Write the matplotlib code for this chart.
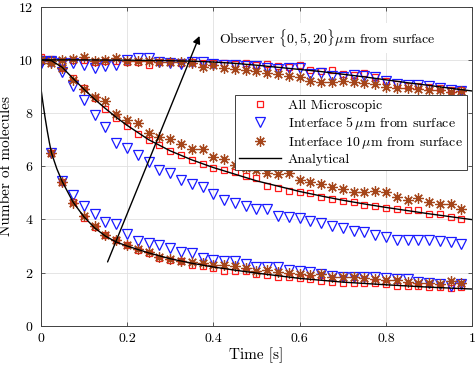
import numpy as np
import matplotlib
matplotlib.use("Agg")
import matplotlib.pyplot as plt

plt.rcParams['font.family'] = 'serif'
plt.rcParams['font.serif'] = ['cmr10']
plt.rcParams['mathtext.fontset'] = 'cm'
plt.rcParams['axes.formatter.use_mathtext'] = True

# sample times of the simulation markers
t = np.arange(40) * 0.025

# observer at the surface (0 um)
micro_0 = [10.0, 6.5, 5.4, 4.64, 4.06, 3.72, 3.41, 3.22, 3.03, 2.85,
           2.72, 2.53, 2.47, 2.44, 2.28, 2.24, 2.16, 2.06, 2.04, 2.07,
           1.94, 1.91, 1.84, 1.84, 1.78, 1.76, 1.69, 1.65, 1.62, 1.62,
           1.62, 1.59, 1.57, 1.49, 1.49, 1.49, 1.47, 1.44, 1.40, 1.44]
if5_0 = [9.95, 6.5, 5.45, 4.91, 4.50, 4.22, 3.91, 3.82, 3.45, 3.20,
         3.10, 3.03, 2.91, 2.78, 2.74, 2.53, 2.47, 2.44, 2.43, 2.31,
         2.19, 2.19, 2.19, 2.09, 2.07, 2.03, 1.94, 1.87, 1.84, 1.84,
         1.84, 1.82, 1.80, 1.74, 1.74, 1.63, 1.59, 1.57, 1.49, 1.57]
if10_0 = [10.0, 6.5, 5.4, 4.62, 4.12, 3.75, 3.42, 3.22, 3.02, 2.87,
          2.76, 2.60, 2.50, 2.44, 2.38, 2.35, 2.30, 2.28, 2.24, 2.16,
          2.07, 2.09, 2.03, 1.97, 1.94, 1.91, 1.93, 1.84, 1.84, 1.82,
          1.78, 1.76, 1.72, 1.72, 1.65, 1.62, 1.59, 1.57, 1.69, 1.62]

# observer 5 um from surface
micro_5 = [10.05, 10.0, 9.70, 9.30, 8.96, 8.55, 8.15, 7.83, 7.53, 7.23,
           6.98, 6.78, 6.58, 6.42, 6.23, 6.10, 5.94, 5.85, 5.77, 5.65,
           5.54, 5.26, 5.19, 5.08, 5.04, 4.98, 4.83, 4.76, 4.70, 4.66,
           4.54, 4.50, 4.41, 4.40, 4.34, 4.35, 4.22, 4.20, 4.10, 4.00]
if5_5 = [9.90, 9.95, 9.55, 9.01, 8.48, 7.92, 7.46, 6.88, 6.69, 6.42,
         6.17, 5.85, 5.73, 5.48, 5.32, 5.20, 4.95, 4.73, 4.62, 4.50,
         4.40, 4.38, 4.12, 4.10, 4.07, 3.95, 3.87, 3.75, 3.66, 3.57,
         3.53, 3.41, 3.35, 3.22, 3.22, 3.22, 3.22, 3.18, 3.14, 3.06]
if10_5 = [10.0, 9.95, 9.68, 9.24, 8.89, 8.61, 8.45, 7.96, 7.73, 7.61,
          7.26, 7.11, 7.01, 6.83, 6.63, 6.63, 6.35, 6.26, 6.04, 5.95,
          5.85, 5.73, 5.69, 5.73, 5.50, 5.41, 5.33, 5.23, 5.16, 5.02,
          5.02, 5.08, 5.04, 4.83, 4.73, 4.79, 4.66, 4.58, 4.56, 4.39]

# observer 20 um from surface
micro_20 = [10.1, 10.05, 9.93, 10.01, 10.0, 9.93, 9.95, 9.97, 9.93, 9.93,
            9.80, 9.93, 9.93, 9.90, 9.93, 9.90, 9.88, 9.90, 9.86, 9.90,
            9.80, 9.84, 9.76, 9.72, 9.80, 9.61, 9.58, 9.61, 9.46, 9.42,
            9.49, 9.34, 9.21, 9.11, 9.03, 9.01, 8.98, 8.96, 8.86, 8.86]
if5_20 = [9.88, 9.92, 9.88, 9.88, 9.80, 9.68, 9.78, 9.80, 10.01, 10.08,
          10.08, 9.93, 9.88, 9.85, 9.93, 9.93, 9.85, 9.80, 9.80, 9.78,
          9.76, 9.68, 9.64, 9.71, 9.68, 9.46, 9.51, 9.39, 9.34, 9.45,
          9.39, 9.36, 9.21, 9.11, 9.05, 9.05, 9.02, 8.96, 8.86, 8.83]
if10_20 = [10.0, 9.90, 10.0, 10.03, 10.1, 9.97, 10.0, 10.08, 9.97, 9.95,
           9.97, 9.93, 9.93, 9.93, 9.88, 9.75, 9.80, 9.68, 9.66, 9.62,
           9.59, 9.51, 9.46, 9.39, 9.36, 9.21, 9.15, 9.15, 9.20, 9.17,
           9.14, 9.11, 8.98, 8.96, 8.95, 8.90, 8.86, 8.86, 8.80, 8.83]

# analytical curves
t_an0 = [0.0, 0.005, 0.01, 0.015, 0.02, 0.025, 0.0375, 0.05, 0.075, 0.1,
         0.125, 0.15, 0.175, 0.2, 0.25, 0.3, 0.35, 0.4, 0.45, 0.5,
         0.6, 0.7, 0.8, 0.9, 1.0]
an_0 = [9.0, 8.4, 7.85, 7.35, 6.9, 6.5, 5.9, 5.42, 4.65, 4.1,
        3.68, 3.37, 3.15, 3.0, 2.74, 2.52, 2.35, 2.21, 2.09, 1.98,
        1.78, 1.64, 1.54, 1.45, 1.38]
t_an5 = [0.0, 0.025, 0.05, 0.075, 0.1, 0.125, 0.15, 0.175, 0.2, 0.25,
         0.3, 0.35, 0.4, 0.45, 0.5, 0.55, 0.6, 0.65, 0.7, 0.75,
         0.8, 0.85, 0.9, 0.95, 1.0]
an_5 = [10.0, 9.97, 9.72, 9.30, 8.90, 8.52, 8.17, 7.84, 7.54, 7.0,
        6.58, 6.24, 5.95, 5.70, 5.45, 5.25, 5.05, 4.88, 4.72, 4.58,
        4.45, 4.33, 4.21, 4.10, 3.99]
t_an20 = [0.0, 0.1, 0.2, 0.3, 0.35, 0.4, 0.45, 0.5, 0.55, 0.6,
          0.65, 0.7, 0.75, 0.8, 0.85, 0.9, 0.95, 1.0]
an_20 = [10.0, 10.0, 9.99, 9.97, 9.95, 9.92, 9.87, 9.8, 9.72, 9.64,
         9.56, 9.46, 9.36, 9.25, 9.14, 9.04, 8.93, 8.83]

xticks = [0, 0.2, 0.4, 0.6, 0.8, 1]
xticklabels = ['0', '0.2', '0.4', '0.6', '0.8', '1']
yticks = [0, 2, 4, 6, 8, 10, 12]

red = '#ff1a1a'
blue = '#1a1aff'
brown = '#a5451a'

fig = plt.figure(figsize=(4.77, 3.69), dpi=100)
ax = fig.add_axes([0.0853, 0.1173, 0.9048, 0.8645])

sq = dict(ls='none', marker='s', ms=5, mfc='none', mec=red, mew=0.9)
tri = dict(ls='none', marker='v', ms=6.5, mfc='none', mec=blue, mew=0.9)
ast = dict(ls='none', marker=(8, 2, 0), ms=7.5, color=brown, mew=0.9)

for ys in (micro_0, micro_5, micro_20):
    h_sq, = ax.plot(t, ys, **sq)
for ys in (if5_0, if5_5, if5_20):
    h_tri, = ax.plot(t, ys, **tri)
for ys in (if10_0, if10_5, if10_20):
    h_ast, = ax.plot(t, ys, **ast)
for tt, ys in ((t_an0, an_0), (t_an5, an_5), (t_an20, an_20)):
    h_an, = ax.plot(tt, ys, color='black', lw=1.0)

ax.set_xlim(0, 1)
ax.set_ylim(0, 12)
ax.set_xticks(xticks)
ax.set_xticklabels(xticklabels)
ax.set_yticks(yticks)
ax.grid(True, color='#e0e0e0', lw=0.6)
ax.set_axisbelow(True)
ax.tick_params(direction='in', top=True, right=True, length=3,
               labelsize=10, color='0.25', width=0.6, pad=5)
for s in ax.spines.values():
    s.set_color('0.25')
    s.set_linewidth(0.7)

ax.set_xlabel('Time [s]', fontsize=11, labelpad=2)
ax.set_ylabel('Number of molecules', fontsize=11, labelpad=4)

ax.annotate('', xy=(0.368, 10.9), xytext=(0.155, 2.4),
            arrowprops=dict(arrowstyle='-|>', color='black', lw=1.0,
                            mutation_scale=11, shrinkA=0, shrinkB=0))
ax.text(0.414, 10.82, r'Observer $\{0,5,20\}\mu$m from surface',
        fontsize=10, va='center', ha='left',
        bbox=dict(facecolor='white', edgecolor='none', pad=3))

leg = ax.legend([h_sq, h_tri, h_ast, h_an],
                ['All Microscopic', r'Interface 5$\,\mu$m from surface',
                 r'Interface 10$\,\mu$m from surface', 'Analytical'],
                loc='upper right', bbox_to_anchor=(0.987, 0.723),
                fontsize=10, fancybox=False, framealpha=1,
                edgecolor='0.25', handlelength=3.0, handletextpad=0.5,
                labelspacing=0.2, borderpad=0.3, borderaxespad=0)
leg.get_frame().set_linewidth(0.7)

fig.savefig('out.png', dpi=100)
